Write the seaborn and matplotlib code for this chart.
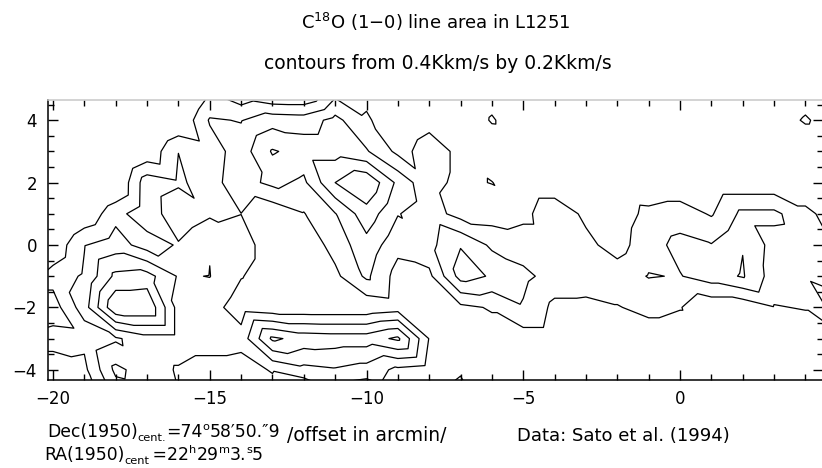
import numpy as np
import matplotlib
matplotlib.use("Agg")
import matplotlib.pyplot as plt
import matplotlib.tri as mtri
from matplotlib.ticker import MultipleLocator
import seaborn as sns

# ---------------- data (C18O line area, K km/s, on a 1' grid) ----------------
ra_offsets = [-21, -20, -19, -18, -17, -16, -15, -14, -13, -12, -11, -10, -9, -8,
              -7, -6, -5, -4, -3, -2, -1, 0, 1, 2, 3, 4, 5]
dec_offsets = [5, 4, 3, 2, 1, 0, -1, -2, -3, -4, -5]

row_p5 = [0.00, 0.00, 0.00, 0.00, 0.00, 0.00, 0.36, 0.20, 0.10, 0.10, 0.49, 0.55, 0.50, 0.50,
          0.50, 0.45, 0.50, 0.50, 0.50, 0.50, 0.50, 0.50, 0.50, 0.50, 0.50, 0.45, 0.50]
row_p4 = [0.02, 0.02, 0.02, 0.02, 0.02, 0.20, 0.62, 0.59, 0.72, 0.70, 0.86, 0.62, 0.50, 0.56,
          0.49, 0.39, 0.47, 0.47, 0.47, 0.47, 0.47, 0.47, 0.47, 0.47, 0.45, 0.39, 0.45]
row_p3 = [0.02, 0.02, 0.02, 0.02, 0.24, 0.598, 0.50, 0.70, 1.02, 0.92, 0.92, 0.82, 0.55, 0.66,
          0.57, 0.48, 0.47, 0.47, 0.47, 0.47, 0.48, 0.48, 0.48, 0.48, 0.48, 0.47, 0.47]
row_p2 = [0.02, 0.02, 0.02, 0.18, 0.72, 0.63, 0.52, 0.72, 0.85, 0.76, 1.20, 1.38, 0.95, 0.64,
          0.57, 0.605, 0.48, 0.48, 0.48, 0.47, 0.45, 0.45, 0.45, 0.45, 0.45, 0.45, 0.45]
row_p1 = [0.02, 0.02, 0.24, 0.53, 0.73, 0.45, 0.57, 0.598, 0.45, 0.59, 0.79, 1.12, 0.81, 0.70,
          0.52, 0.50, 0.55, 0.72, 0.56, 0.50, 0.65, 0.70, 0.58, 0.85, 0.85, 0.65, 0.50]
row_0 = [0.05, 0.25, 0.59, 0.70, 0.50, 0.62, 0.79, 0.68, 0.50, 0.45, 0.68, 0.93, 0.66, 0.74,
         0.99, 0.76, 0.70, 0.70, 0.65, 0.52, 0.72, 0.86, 0.81, 0.99, 0.72, 0.70, 0.58]
row_m1 = [0.48, 0.48, 0.63, 1.05, 1.08, 0.78, 0.805, 0.61, 0.50, 0.45, 0.55, 0.84, 0.52, 0.55,
          1.08, 0.98, 0.85, 0.72, 0.70, 0.70, 0.81, 0.79, 0.90, 1.02, 0.70, 0.78, 0.70]
row_m2 = [0.25, 0.30, 0.71, 1.38, 1.38, 0.72, 0.68, 0.50, 0.45, 0.45, 0.45, 0.45, 0.50, 0.50,
          0.55, 0.62, 0.78, 0.55, 0.55, 0.59, 0.65, 0.61, 0.45, 0.45, 0.59, 0.61, 0.90]
row_m3 = [0.47, 0.47, 0.45, 0.57, 0.72, 0.72, 0.72, 0.68, 1.24, 1.12, 1.10, 1.10, 1.24, 0.59,
          0.50, 0.50, 0.50, 0.50, 0.50, 0.50, 0.50, 0.50, 0.50, 0.50, 0.50, 0.50, 0.50]
row_m4 = [0.30, 0.30, 0.35, 0.85, 0.70, 0.58, 0.50, 0.50, 0.62, 0.74, 0.78, 0.72, 0.55, 0.50,
          0.58, 0.52, 0.50, 0.50, 0.50, 0.50, 0.50, 0.50, 0.50, 0.50, 0.50, 0.50, 0.50]
row_m5 = [0.20, 0.20, 0.20, 0.62, 0.68, 0.61, 0.45, 0.45, 0.45, 0.20, 0.42, 0.30, 0.45, 0.50,
          0.68, 0.50, 0.50, 0.50, 0.50, 0.50, 0.50, 0.50, 0.50, 0.50, 0.50, 0.50, 0.50]

contour_levels = [0.4, 0.6, 0.8, 1.0, 1.2, 1.4]
x_major_ticks = [-20, -15, -10, -5, 0]
y_major_ticks = [-4, -2, 0, 2, 4]

title_text = "C$^{18}$O (1\u22120) line area in L1251"
subtitle_text = "contours from 0.4Kkm/s by 0.2Kkm/s"
# (text, size, vertical shift in px) pieces for the two coordinate lines
dec_pieces = [("Dec(1950)", 12.4, 0), ("cent.", 8.2, -4), ("=74", 12.4, 0),
              ("o", 8.2, 7), ("58\u203250.\u20339", 12.4, 0)]
ra_pieces = [("RA(1950)", 12.4, 0), ("cent", 8.2, -4), ("\u2009=22", 12.4, 0),
             ("h", 8.2, 7), ("29", 12.4, 0), ("m", 8.2, 7), ("3.", 12.4, 0),
             ("s", 8.2, 7), ("5", 12.4, 0)]
axis_text = "/offset in arcmin/"
credit_text = "Data: Sato et al. (1994)"

# ---------------- style ----------------
sns.set_theme(style="ticks")
plt.rcParams['font.family'] = ['DejaVu Sans']
plt.rcParams['mathtext.fontset'] = 'dejavusans'
plt.rcParams['axes.unicode_minus'] = True

W, H = 822, 468
fig = plt.figure(figsize=(W / 100, H / 100), dpi=100, facecolor='white')

left_px, right_px, top_px, bottom_px = 48, 823, 100, 380
ax = fig.add_axes([left_px / W, 1 - bottom_px / H,
                   (right_px - left_px) / W, (bottom_px - top_px) / H])
ax.set_facecolor('white')

grid = np.array([row_p5, row_p4, row_p3, row_p2, row_p1, row_0,
                 row_m1, row_m2, row_m3, row_m4, row_m5])
X, Y = np.meshgrid(ra_offsets, dec_offsets)
nx, ny = len(ra_offsets), len(dec_offsets)
triangles = []
for j in range(ny - 1):
    for i in range(nx - 1):
        tl = j * nx + i
        tr = j * nx + i + 1
        bl = (j + 1) * nx + i
        br = (j + 1) * nx + i + 1
        triangles.append([tl, bl, br])
        triangles.append([tl, br, tr])
tri = mtri.Triangulation(X.ravel(), Y.ravel(), triangles)
ax.tricontour(tri, grid.ravel(), levels=contour_levels, colors='black',
              linewidths=0.9)

px_per_x = 31.35
px_per_y = 31.2
ax.set_xlim(-20 + (left_px - 53) / px_per_x, -20 + (right_px - 53) / px_per_x)
ax.set_ylim((245 - bottom_px) / px_per_y, (245 - top_px) / px_per_y)

ax.set_xticks(x_major_ticks)
ax.set_yticks(y_major_ticks)
ax.xaxis.set_minor_locator(MultipleLocator(1))
ax.yaxis.set_minor_locator(MultipleLocator(0.5))
ax.tick_params(which='both', direction='in', top=True, right=True,
               color='black', width=1.0)
ax.tick_params(which='major', length=7.5)
ax.tick_params(which='minor', length=4)
ax.tick_params(axis='x', which='major', labelsize=12, pad=7, labelcolor='black')
ax.tick_params(axis='y', which='major', labelsize=12, pad=8, labelcolor='black')
for side, sp in ax.spines.items():
    sp.set_color('black')
    sp.set_linewidth(1.1)
ax.spines['top'].set_color('#c8c8c8')
ax.grid(False)


def ftext(x, y, s, **kw):
    return fig.text(x / W, 1 - y / H, s, color='black', va='baseline', **kw)


renderer = fig.canvas.get_renderer()


def pieces_text(x, y, pieces):
    for s, size, dy in pieces:
        t = ftext(x, y - dy, s, ha='left', fontsize=size)
        x += t.get_window_extent(renderer).width


ftext(436, 29, title_text, ha='center', fontsize=13)
ftext(438, 69, subtitle_text, ha='center', fontsize=13.5)
pieces_text(47, 437, dec_pieces)
pieces_text(44, 460, ra_pieces)
ftext(287, 441, axis_text, ha='left', fontsize=13.5)
ftext(517, 441, credit_text, ha='left', fontsize=13)

fig.savefig("out.png", dpi=100, facecolor='white')
